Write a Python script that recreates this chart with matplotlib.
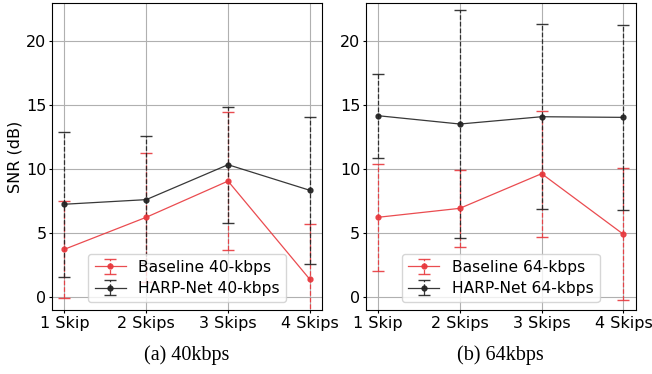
import numpy as np
import matplotlib.pyplot as plt

categories = ["1 Skip", "2 Skips", "3 Skips", "4 Skips"]

# 40 kbps
base40_mean = [3.75, 6.25, 9.08, 1.40]
base40_err = [3.78, 5.05, 5.42, 4.35]
harp40_mean = [7.27, 7.63, 10.36, 8.36]
harp40_err = [5.65, 4.98, 4.53, 5.73]

# 64 kbps
base64_mean = [6.25, 6.95, 9.66, 4.92]
base64_err = [4.19, 3.00, 4.92, 5.17]
harp64_mean = [14.19, 13.54, 14.11, 14.06]
harp64_err = [3.28, 8.90, 7.22, 7.24]

panels = [
    ("(a) 40kbps", "40-kbps", base40_mean, base40_err, harp40_mean, harp40_err),
    ("(b) 64kbps", "64-kbps", base64_mean, base64_err, harp64_mean, harp64_err),
]

red = "#e8383d"
black = "#222222"

fig = plt.figure(figsize=(6.52, 3.74), dpi=100)
axes = [fig.add_axes([0.080, 0.171, 0.414, 0.821]),
        fig.add_axes([0.561, 0.171, 0.414, 0.821])]

x = np.arange(len(categories))
for ax, (caption, rate, bm, be, hm, he) in zip(axes, panels):
    for mean, err, col, name in [(bm, be, red, "Baseline"), (hm, he, black, "HARP-Net")]:
        eb = ax.errorbar(x, mean, yerr=err, color=col, marker="o", markersize=3.5,
                         linewidth=0.9, elinewidth=0.9, capsize=4.5, capthick=1.0,
                         alpha=0.9, label="%s %s" % (name, rate))
        eb[-1][0].set_linestyle("--")
    ax.set_ylim(-1, 23)
    ax.set_yticks([0, 5, 10, 15, 20])
    ax.set_xticks(x)
    ax.set_xticklabels(categories)
    ax.tick_params(labelsize=11.5, length=2.5, pad=1.5)
    ax.grid(True, color="#b0b0b0", linewidth=0.8)
    ax.set_axisbelow(True)
    ax.legend(loc="lower center", fontsize=11.2, labelspacing=0.4)
    pos = ax.get_position()
    fig.text((pos.x0 + pos.x1) / 2, 0.051, caption, ha="center", va="center",
             fontsize=14.5, family="Liberation Serif")

axes[0].set_ylabel("SNR (dB)", fontsize=11.5, labelpad=3)

plt.savefig("out.png", dpi=100)
